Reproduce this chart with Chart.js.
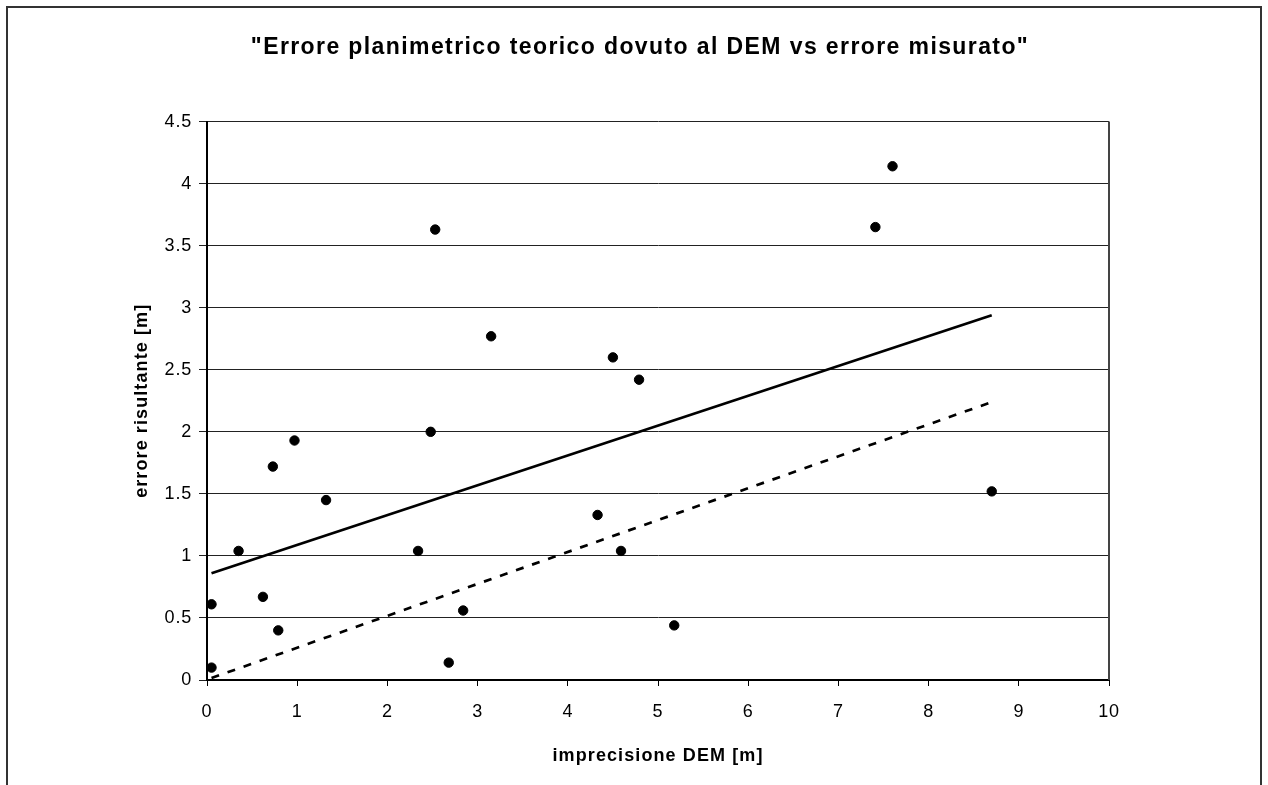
<!DOCTYPE html>
<html>
<head>
<meta charset="utf-8">
<script src="https://cdn.jsdelivr.net/npm/chart.js@4/dist/chart.umd.min.js"></script>
<style>
  html, body { margin: 0; padding: 0; background: #fff; }
  #wrap { width: 1268px; height: 785px; }
</style>
</head>
<body>
<div id="wrap"><canvas id="c" width="1268" height="785"></canvas></div>
<script>
// ---- Data ----
const titleText = '"Errore planimetrico teorico dovuto al DEM vs errore misurato"';
const xAxisTitle = 'imprecisione DEM [m]';
const yAxisTitle = 'errore risultante [m]';

// measured points: x = imprecisione DEM [m], y = errore risultante [m]
const pointX = [0.05, 0.05, 0.35, 0.62, 0.73, 0.79, 0.97, 1.32, 2.34, 2.48, 2.53,
                2.68, 2.84, 3.15, 4.33, 4.50, 4.59, 4.79, 5.18, 7.41, 7.60, 8.70];
const pointY = [0.61, 0.10, 1.04, 0.67, 1.72, 0.40, 1.93, 1.45, 1.04, 2.00, 3.63,
                0.14, 0.56, 2.77, 1.33, 2.60, 1.04, 2.42, 0.44, 3.65, 4.14, 1.52];

// solid trend line (end points)
const trendX = [0.05, 8.70];
const trendY = [0.86, 2.94];

// dashed theoretical line (end points)
const theoX = [0.05, 8.70];
const theoY = [0.016, 2.24];

// axis ranges / steps
const xMin = 0, xMax = 10, xStep = 1;
const yMin = 0, yMax = 4.5, yStep = 0.5;

const FONT = "'Liberation Sans', Arial, sans-serif";

function zip(xs, ys) { return xs.map((x, i) => ({ x: x, y: ys[i] })); }

// The reference text is slightly wide-set: add a little letter spacing per font.
const canvas = document.getElementById('c');
const ctx2d = canvas.getContext('2d');
const spacingByFont = { 'b23': '1.4px', 'b18': '1.1px', 'n18': '0.8px' };
const origFillText = ctx2d.fillText;
ctx2d.fillText = function (text, x, y, maxWidth) {
  const m = /(\d+(?:\.\d+)?)px/.exec(this.font);
  const key = (/bold/.test(this.font) ? 'b' : 'n') + (m ? m[1] : '');
  if ('letterSpacing' in this) this.letterSpacing = spacingByFont[key] || '0px';
  if (maxWidth === undefined) return origFillText.call(this, text, x, y);
  return origFillText.call(this, text, x, y, maxWidth);
};

const framePlugin = {
  id: 'frame',
  beforeDraw(chart) {
    const ctx = chart.ctx;
    ctx.save();
    ctx.fillStyle = '#fff';
    ctx.fillRect(0, 0, chart.width, chart.height);
    ctx.strokeStyle = '#333';
    ctx.lineWidth = 2;
    ctx.beginPath();
    ctx.moveTo(7, chart.height + 5);
    ctx.lineTo(7, 7);
    ctx.lineTo(1261, 7);
    ctx.lineTo(1261, chart.height + 5);
    ctx.stroke();
    ctx.restore();
  },
  beforeDatasetsDraw(chart) {
    const a = chart.chartArea, ctx = chart.ctx;
    ctx.save();
    ctx.strokeStyle = '#444';
    ctx.lineWidth = 2;
    ctx.beginPath();
    ctx.moveTo(a.right, a.top);
    ctx.lineTo(a.right, a.bottom);
    ctx.stroke();
    ctx.restore();
  }
};

new Chart(canvas, {
  type: 'scatter',
  data: {
    datasets: [
      {
        label: 'misurato',
        data: zip(pointX, pointY),
        backgroundColor: '#000',
        borderColor: '#000',
        pointRadius: 4.7,
        pointHoverRadius: 4.7,
        showLine: false,
        order: 0
      },
      {
        label: 'tendenza',
        data: zip(trendX, trendY),
        borderColor: '#000',
        borderWidth: 2.7,
        pointRadius: 0,
        showLine: true,
        fill: false,
        order: 1
      },
      {
        label: 'teorico',
        data: zip(theoX, theoY),
        borderColor: '#000',
        borderWidth: 2.7,
        borderDash: [8, 9],
        pointRadius: 0,
        showLine: true,
        fill: false,
        order: 2
      }
    ]
  },
  options: {
    responsive: false,
    animation: false,
    devicePixelRatio: 1,
    layout: { padding: { top: 7, left: 13, right: 1, bottom: 0 } },
    plugins: {
      legend: { display: false },
      tooltip: { enabled: false },
      title: {
        display: true,
        text: titleText,
        color: '#000',
        font: { family: FONT, size: 23, weight: 'bold' },
        padding: { top: 27, bottom: 60 }
      }
    },
    scales: {
      x: {
        type: 'linear',
        min: xMin, max: xMax,
        ticks: {
          stepSize: xStep,
          color: '#000',
          font: { family: FONT, size: 18 },
          padding: 15,
          maxRotation: 0,
          callback: (v) => String(v)
        },
        grid: { drawOnChartArea: false, tickLength: 6, color: '#000', lineWidth: 1 },
        border: { display: true, color: '#000', width: 2 },
        title: {
          display: true,
          text: xAxisTitle,
          color: '#000',
          font: { family: FONT, size: 18, weight: 'bold' },
          padding: { top: 0, bottom: 18 }
        },
        afterFit(s) { s.height = 105; }
      },
      y: {
        type: 'linear',
        min: yMin, max: yMax,
        ticks: {
          stepSize: yStep,
          color: '#000',
          font: { family: FONT, size: 18 },
          padding: 7,
          callback: (v) => String(v)
        },
        grid: { color: '#222', lineWidth: 1, tickLength: 8 },
        border: { display: true, color: '#000', width: 2 },
        title: {
          display: true,
          text: yAxisTitle,
          color: '#000',
          font: { family: FONT, size: 18, weight: 'bold' },
          padding: { top: 118, bottom: 0 }
        },
        afterFit(s) { s.width = 194; }
      },
      y2: {
        type: 'linear',
        position: 'right',
        display: true,
        min: yMin, max: yMax,
        ticks: { display: false },
        grid: { display: false },
        border: { display: false },
        afterFit(s) { s.width = 158; }
      }
    }
  },
  plugins: [framePlugin]
});
</script>
</body>
</html>
